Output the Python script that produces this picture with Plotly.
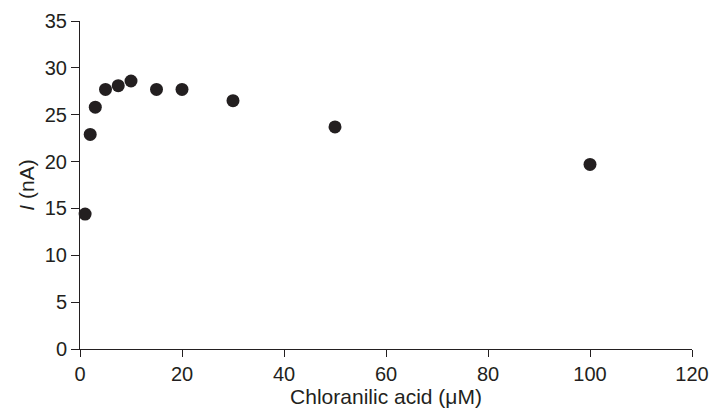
import plotly.graph_objects as go

conc = [1, 2, 3, 5, 7.5, 10, 15, 20, 30, 50, 100]
current = [14.4, 22.9, 25.8, 27.7, 28.1, 28.6, 27.7, 27.7, 26.5, 23.7, 19.7]

x_ticks = [0, 20, 40, 60, 80, 100, 120]
y_ticks = [0, 5, 10, 15, 20, 25, 30, 35]

tick_font = dict(family="Liberation Sans, Arial, sans-serif", size=20, color="#231f20")
title_font = dict(family="Liberation Sans, Arial, sans-serif", size=21, color="#231f20")

fig = go.Figure()
fig.add_trace(go.Scatter(
    x=conc, y=current, mode="markers",
    marker=dict(size=13, color="#231f20"),
    cliponaxis=False, showlegend=False,
))

fig.update_layout(
    width=711, height=411,
    margin=dict(l=80, r=19, t=21, b=62),
    paper_bgcolor="white", plot_bgcolor="white",
    font=tick_font,
    xaxis=dict(
        range=[0, 120], tickvals=x_ticks, ticks="outside", ticklen=7,
        tickcolor="#231f20", showline=True, linecolor="#231f20", linewidth=1,
        showgrid=False, zeroline=False, automargin=False, tickfont=tick_font,
        ticklabeloverflow="allow",
        title=dict(text="Chloranilic acid (μM)", standoff=5, font=title_font),
    ),
    yaxis=dict(
        range=[0, 35], tickvals=y_ticks, ticks="outside", ticklen=8,
        tickcolor="#231f20", showline=True, linecolor="#231f20", linewidth=1,
        showgrid=False, zeroline=False, automargin=False, tickfont=tick_font,
        title=dict(text="<i>I</i> (nA)", standoff=4, font=title_font),
    ),
)

# remove the default page margin so the 711x411 figure fills the window exactly
fig.write_html(
    "out.html",
    config={"displayModeBar": False},
    post_script="document.body.style.margin='0';document.documentElement.style.overflow='hidden';",
)
